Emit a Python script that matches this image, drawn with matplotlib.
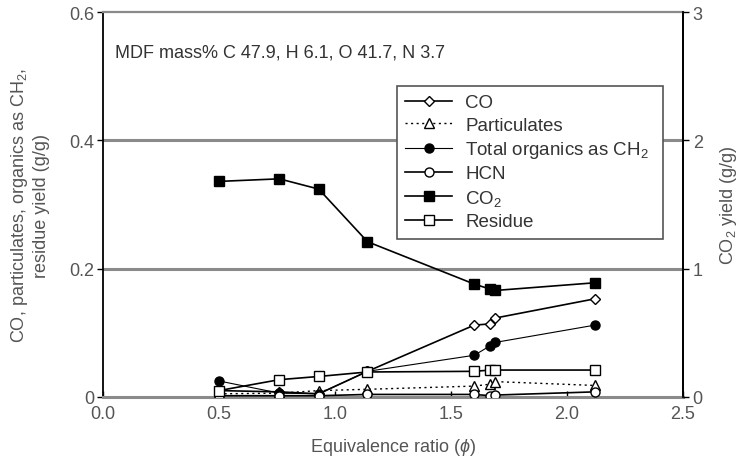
import matplotlib
matplotlib.use("Agg")
import matplotlib.pyplot as plt
from matplotlib.ticker import FixedLocator, FuncFormatter

plt.rcParams['font.family'] = ['Liberation Sans', 'DejaVu Sans']
plt.rcParams['mathtext.fontset'] = 'custom'
plt.rcParams['mathtext.rm'] = 'Liberation Sans'
plt.rcParams['mathtext.it'] = 'Liberation Sans:italic'

# Equivalence ratio of each run
phi = [0.50, 0.76, 0.93, 1.14, 1.60, 1.67, 1.69, 2.12]

# Yields (g/g) on the left axis
co = [0.010, 0.008, 0.005, 0.040, 0.112, 0.114, 0.123, 0.153]
particulates = [0.005, 0.006, 0.010, 0.012, 0.017, 0.020, 0.024, 0.018]
total_organics = [0.025, 0.006, 0.005, 0.040, 0.065, 0.080, 0.085, 0.112]
hcn = [0.002, 0.002, 0.002, 0.004, 0.004, 0.002, 0.003, 0.008]
residue = [0.010, 0.027, 0.032, 0.039, 0.040, 0.042, 0.042, 0.042]

# CO2 yield (g/g) on the right axis
co2 = [1.68, 1.70, 1.62, 1.21, 0.88, 0.84, 0.83, 0.89]

FS = 13
text_col = '#333333'

fig = plt.figure(figsize=(7.38, 4.60), dpi=100)
ax = fig.add_axes([103 / 738, 62 / 460, 580 / 738, 385 / 460])
ax2 = ax.twinx()

ax.set_xlim(0, 2.5)
ax.set_ylim(0, 0.6)
ax2.set_ylim(0, 3)

grid_col = '#8a8a8a'
for yv in (0.2, 0.4):
    ax.axhline(yv, color=grid_col, lw=2.2, zorder=0)

ax.spines['bottom'].set_color(grid_col)
ax.spines['bottom'].set_linewidth(2.2)
ax.spines['top'].set_color(grid_col)
ax.spines['top'].set_linewidth(1.6)
for s in ('left', 'right'):
    ax.spines[s].set_color('black')
    ax.spines[s].set_linewidth(1.3)
ax2.spines['right'].set_linewidth(1.3)
for s in ('top', 'bottom', 'left'):
    ax2.spines[s].set_visible(False)

ms = 6.5
l_co, = ax.plot(phi, co, color='black', lw=1.2, marker='D', ms=5.5,
                mfc='white', mec='black', mew=1.0, label='CO', zorder=4)
l_pt, = ax.plot(phi, particulates, color='black', lw=1.0, ls=(0, (1.5, 2.5)),
                marker='^', ms=ms, mfc='white', mec='black', mew=1.0,
                label='Particulates', zorder=4)
l_to, = ax.plot(phi, total_organics, color='black', lw=0.8, marker='o', ms=ms,
                mfc='black', mec='black', label='Total organics as CH$_2$', zorder=4)
l_hc, = ax.plot(phi, hcn, color='black', lw=1.2, marker='o', ms=ms,
                mfc='white', mec='black', mew=1.0, label='HCN', zorder=4)
l_co2, = ax2.plot(phi, co2, color='black', lw=1.2, marker='s', ms=ms,
                  mfc='black', mec='black', label='CO$_2$', zorder=4)
l_re, = ax.plot(phi, residue, color='black', lw=1.2, marker='s', ms=ms,
                mfc='white', mec='black', mew=1.0, label='Residue', zorder=4)

ax.xaxis.set_major_locator(FixedLocator([0, 0.5, 1.0, 1.5, 2.0, 2.5]))
ax.xaxis.set_major_formatter(FuncFormatter(lambda v, p: f"{v:.1f}"))
ax.yaxis.set_major_locator(FixedLocator([0, 0.2, 0.4, 0.6]))
ax.yaxis.set_major_formatter(FuncFormatter(lambda v, p: "0" if v == 0 else f"{v:.1f}"))
ax2.yaxis.set_major_locator(FixedLocator([0, 1, 2, 3]))
ax2.yaxis.set_major_formatter(FuncFormatter(lambda v, p: f"{v:.0f}"))

tick_col = '#555555'
ax.tick_params(axis='x', direction='in', length=4, width=1, colors='black',
               labelcolor=tick_col, labelsize=FS, pad=6)
ax.tick_params(axis='y', direction='out', length=4, width=1,
               labelcolor=tick_col, labelsize=FS, pad=2)
ax2.tick_params(axis='y', direction='out', length=4, width=1,
                labelcolor=tick_col, labelsize=FS, pad=3)

ax.set_xlabel('Equivalence ratio ($\\it{\\phi}$)', fontsize=FS, color=tick_col, labelpad=10)
ax.set_ylabel('CO, particulates, organics as CH$_2$,\nresidue yield (g/g)',
              fontsize=FS, color=tick_col, labelpad=14, linespacing=1.25)
ax2.set_ylabel('CO$_2$ yield (g/g)', fontsize=FS, color=tick_col, labelpad=11)

ax.text(0.05, 0.537, 'MDF mass% C 47.9, H 6.1, O 41.7, N 3.7', fontsize=FS,
        color=text_col, va='center', ha='left')

handles = [l_co, l_pt, l_to, l_hc, l_co2, l_re]
leg = ax2.legend(handles=handles, loc='upper left',
                 bbox_to_anchor=(294 / 580, 0.421, 266 / 580, 0.387),
                 mode='expand', frameon=True, fancybox=False, fontsize=13.5,
                 handlelength=2.5, handletextpad=0.7, labelspacing=0.28,
                 borderpad=0.45, borderaxespad=0)
leg.get_frame().set_edgecolor('#555555')
leg.get_frame().set_linewidth(1.2)
leg.get_frame().set_alpha(1)
for t in leg.get_texts():
    t.set_color(text_col)

fig.savefig('out.png', dpi=100)
